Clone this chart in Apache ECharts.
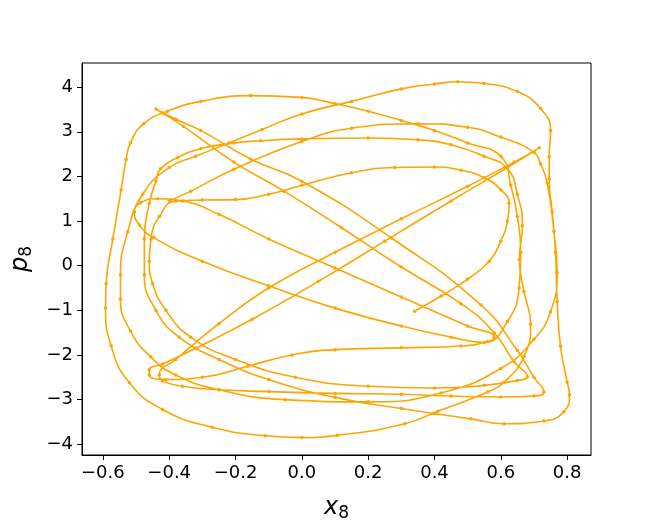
<!DOCTYPE html>
<html>
<head>
<meta charset="utf-8">
<script src="https://cdn.jsdelivr.net/npm/echarts@6/dist/echarts.min.js"></script>
<style>html,body{margin:0;padding:0;background:#fff}#c{width:657px;height:527px}</style>
</head>
<body>
<div id="c"></div>
<script>
// Tick labels
const xTicks = [-0.6, -0.4, -0.2, 0.0, 0.2, 0.4, 0.6, 0.8];
const yTicks = [-4, -3, -2, -1, 0, 1, 2, 3, 4];

// Trajectory (x8, p8), traced segment by segment
const segInner = [[0.34,-1.02],[0.42,-0.68],[0.5,-0.3],[0.565,0.1],[0.6,0.55],[0.62,1.0],[0.625,1.4],[0.6,1.7],[0.55,1.97],[0.48,2.14],[0.4,2.21],[0.28,2.2],[0.15,2.08],[0.0,1.8],[-0.1,1.6],[-0.2,1.48],[-0.3,1.47],[-0.38,1.45],[-0.43,1.1],[-0.455,0.6],[-0.46,0.1],[-0.45,-0.4],[-0.41,-1.0],[-0.335,-1.6],[-0.2,-2.1],[-0.02,-2.5],[0.2,-2.7],[0.4,-2.74],[0.55,-2.68],[0.65,-2.57],[0.68,-2.49]];
const segSpike = [[0.64,-2.15],[0.58,-1.5],[0.48,-0.85],[0.3,-0.03],[0.12,0.85],[-0.054,1.67],[-0.205,2.32],[-0.357,3.12],[-0.42,3.42],[-0.44,3.51],[-0.38,3.28],[-0.305,3.03],[-0.155,2.39],[0.0,1.89],[0.27,0.62],[0.54,-0.88],[0.65,-1.9],[0.7,-2.5],[0.73,-2.83]];
const segFlat = [[0.7,-2.92],[0.6,-2.94],[0.45,-2.92],[0.3,-2.88],[0.1,-2.86],[-0.1,-2.82],[-0.25,-2.78],[-0.36,-2.7],[-0.42,-2.58],[-0.43,-2.44]];
const segTip = [[-0.38,-2.1],[-0.25,-1.3],[-0.1,-0.5],[0.1,0.3],[0.3,1.05],[0.5,1.78],[0.64,2.32],[0.716,2.64],[0.62,2.2],[0.45,1.45],[0.25,0.55],[0.05,-0.35],[-0.15,-1.2],[-0.32,-1.85],[-0.42,-2.2],[-0.46,-2.33]];
const segCusp = [[-0.46,-2.45],[-0.41,-2.55],[-0.3,-2.5],[-0.163,-2.25],[-0.03,-2.0],[0.1,-1.88],[0.3,-1.84],[0.48,-1.8],[0.56,-1.7],[0.58,-1.6]];
const segCircle = [[0.5,-1.35],[0.3,-0.7],[0.1,-0.05],[-0.1,0.6],[-0.25,1.15],[-0.36,1.45],[-0.435,1.5],[-0.486,1.41],[-0.505,1.2],[-0.49,0.91],[-0.447,0.63],[-0.3,0.1],[-0.1,-0.45],[0.1,-0.95],[0.3,-1.35],[0.45,-1.6],[0.55,-1.72]];
const segBig = [[0.62,-1.25],[0.655,-0.5],[0.66,0.3],[0.65,1.1],[0.63,1.8],[0.6,2.45],[0.5,2.75],[0.4,3.03],[0.3,3.25],[0.2,3.46],[0.1,3.63],[0.0,3.77],[-0.154,3.81],[-0.305,3.68],[-0.405,3.46],[-0.477,3.18],[-0.517,2.75],[-0.53,2.38],[-0.545,1.7],[-0.57,0.6],[-0.59,-0.4],[-0.592,-0.95],[-0.575,-1.8],[-0.52,-2.62],[-0.42,-3.22],[-0.27,-3.62],[-0.11,-3.81],[0.0,-3.85],[0.106,-3.8],[0.31,-3.54],[0.41,-3.26],[0.56,-2.83],[0.61,-2.61],[0.67,-2.03],[0.69,-1.31],[0.67,-0.58],[0.656,0.14]];
const segMid = [[0.665,0.9],[0.65,1.6],[0.62,2.17],[0.55,2.45],[0.45,2.71],[0.35,2.82],[0.2,2.86],[0.0,2.84],[-0.124,2.8],[-0.205,2.75],[-0.305,2.62],[-0.375,2.42],[-0.426,2.17],[-0.44,1.89],[-0.46,1.4],[-0.475,0.6],[-0.475,-0.2],[-0.44,-1.0],[-0.37,-1.6],[-0.25,-2.1],[-0.1,-2.55],[0.1,-2.95],[0.3,-3.2],[0.51,-3.43]];
const segOuter = [[0.61,-3.54],[0.73,-3.48],[0.79,-3.27],[0.807,-2.89],[0.8,-2.61],[0.78,-1.8],[0.77,-0.8],[0.765,0.3],[0.755,1.2],[0.746,1.95],[0.746,2.44],[0.75,3.03],[0.72,3.52],[0.65,3.9],[0.55,4.08],[0.47,4.12],[0.4,4.07],[0.3,3.96],[0.15,3.68],[0.0,3.4],[-0.12,3.05],[-0.22,2.75],[-0.32,2.45],[-0.4,2.2],[-0.48,1.6],[-0.525,0.76],[-0.547,-0.2],[-0.547,-0.75],[-0.517,-1.46],[-0.456,-2.04],[-0.38,-2.45]];
const segLast = [[-0.25,-2.78],[-0.05,-3.0],[0.2,-3.05],[0.42,-2.85],[0.6,-2.3],[0.7,-1.65],[0.75,-1.03],[0.77,-0.16],[0.76,0.77],[0.74,1.85],[0.72,2.28],[0.7,2.54],[0.6,2.88],[0.5,3.1],[0.35,3.18],[0.15,3.08],[0.0,2.78],[-0.205,2.16],[-0.335,1.67],[-0.4,1.45]];

const path = [].concat(segInner, segSpike, segFlat, segTip, segCusp, segCircle, segBig, segMid, segOuter, segLast);

const chart = echarts.init(document.getElementById('c'), null, {renderer: 'canvas'});
const rich = {
  i: {fontFamily: 'DejaVu Sans', fontStyle: 'italic', fontSize: 24, color: '#000'},
  s: {fontFamily: 'DejaVu Sans', fontSize: 17, color: '#000', padding: [12, 0, 0, 0]}
};
chart.setOption({
  animation: false,
  backgroundColor: '#fff',
  grid: {left: 82, right: 66, top: 63, bottom: 58, show: true, borderColor: '#000', borderWidth: 1},
  xAxis: {
    type: 'value', min: -0.663, max: 0.872,
    name: '{i|x}{s|8}', nameLocation: 'middle', nameGap: 38,
    nameTextStyle: {rich: rich},
    axisLine: {show: true, onZero: false, lineStyle: {color: '#000', width: 1}},
    axisTick: {show: true, inside: false, length: 5, lineStyle: {color: '#000'}, customValues: xTicks},
    axisLabel: {show: true, margin: 9, color: '#000', fontFamily: 'DejaVu Sans', fontSize: 18, customValues: xTicks,
      formatter: v => (v < 0 ? '\u2212' : '') + Math.abs(v).toFixed(1)},
    splitLine: {show: false}
  },
  yAxis: {
    type: 'value', min: -4.24, max: 4.54,
    name: '{i|p}{s|8}', nameLocation: 'middle', nameGap: 44, nameRotate: 90,
    nameTextStyle: {rich: rich},
    axisLine: {show: true, onZero: false, lineStyle: {color: '#000', width: 1}},
    axisTick: {show: true, inside: false, length: 5, lineStyle: {color: '#000'}, customValues: yTicks},
    axisLabel: {show: true, margin: 9, color: '#000', fontFamily: 'DejaVu Sans', fontSize: 18, customValues: yTicks,
      formatter: v => (v < 0 ? '\u2212' : '') + Math.abs(v).toFixed(0)},
    splitLine: {show: false}
  },
  series: [{
    type: 'line',
    data: path,
    smooth: 0.5,
    showSymbol: true,
    symbol: 'circle',
    symbolSize: 3.5,
    itemStyle: {color: '#FFA500'},
    lineStyle: {color: '#FFA500', width: 1.6},
    clip: true
  }]
});
</script>
</body>
</html>
